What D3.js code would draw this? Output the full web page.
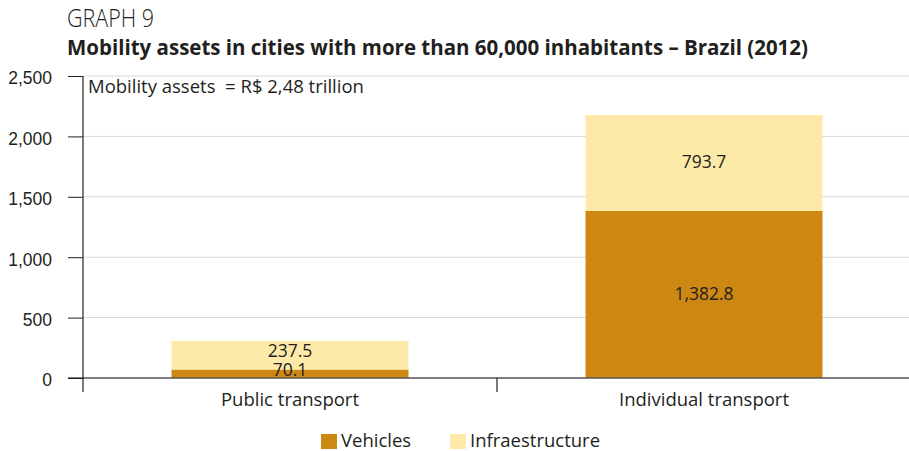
<!DOCTYPE html>
<html>
<head>
<meta charset="utf-8">
<script src="https://cdn.jsdelivr.net/npm/d3@7"></script>
<style>
  body { margin: 0; background: #fff; }
  svg { display: block; font-family: "Open Sans", "Noto Sans", sans-serif; }
</style>
</head>
<body>
<svg id="chart" width="909" height="451"></svg>
<script>
// Mobility assets (R$ billion), Brazil 2012
const categories = ["Public transport", "Individual transport"];
const seriesNames = ["Vehicles", "Infraestructure"];
const vehicles = [70.1, 1382.8];
const infrastructure = [237.5, 793.7];
const yTicks = [0, 500, 1000, 1500, 2000, 2500];
const colors = ["#cd8813", "#feeaa8"];

const svg = d3.select("#chart");
const margin = { left: 83, top: 76 };
const width = 909;

const rows = categories.map((c, i) => ({ category: c, Vehicles: vehicles[i], Infraestructure: infrastructure[i] }));
const stacked = d3.stack().keys(seriesNames)(rows);

const x = d3.scaleBand().domain(categories).range([margin.left, width + 2]).paddingInner(0).paddingOuter(0);
const y = d3.scaleLinear().domain([0, 2500]).range([378, 76]);

const fmt = d3.format(",.1f");
const ink = "#231f20";

// Title
svg.append("text").attr("x", 67).attr("y", 27)
  .attr("font-size", 25).attr("font-weight", 300).attr("fill", ink)
  .attr("transform", "translate(67,0) scale(0.86,1) translate(-67,0)")
  .text("GRAPH 9");
svg.append("text").attr("x", 67).attr("y", 55)
  .attr("font-size", 21).attr("font-weight", 700).attr("fill", ink)
  .attr("textLength", 741).attr("lengthAdjust", "spacingAndGlyphs")
  .text("Mobility assets in cities with more than 60,000 inhabitants – Brazil (2012)");

// Gridlines
svg.append("g").selectAll("line").data(yTicks.filter(d => d > 0)).join("line")
  .attr("x1", margin.left).attr("x2", width)
  .attr("y1", d => y(d)).attr("y2", d => y(d))
  .attr("stroke", "#d8d8d8").attr("stroke-width", 1);

// Bars
const barW = 237;
svg.append("g").selectAll("g").data(stacked).join("g")
  .attr("fill", (d, i) => colors[i])
  .selectAll("rect").data(d => d).join("rect")
  .attr("x", d => x(d.data.category) + x.bandwidth() / 2 - barW / 2)
  .attr("width", barW)
  .attr("y", d => y(d[1]))
  .attr("height", d => y(d[0]) - y(d[1]));

// Value labels
svg.append("g").selectAll("g").data(stacked).join("g")
  .selectAll("text").data(d => d.map(v => ({ v, key: d.key }))).join("text")
  .attr("x", d => x(d.v.data.category) + x.bandwidth() / 2)
  .attr("y", d => (y(d.v[0]) + y(d.v[1])) / 2 - (d.v.data.category === "Public transport" ? 4 : 1))
  .attr("dy", "0.36em")
  .attr("text-anchor", "middle").attr("font-size", 17.5).attr("fill", ink)
  .text(d => fmt(d.v.data[d.key]));

// Zero baseline
svg.append("line").attr("x1", 68).attr("x2", width)
  .attr("y1", y(0)).attr("y2", y(0))
  .attr("stroke", "#555").attr("stroke-width", 1.5);

// Y axis
const yAxis = d3.axisLeft(y).tickValues(yTicks).tickSize(15).tickPadding(16).tickFormat(d3.format(","));
const gy = svg.append("g").attr("transform", `translate(${margin.left},0)`).call(yAxis);
gy.select(".domain").remove();
gy.selectAll(".tick line").attr("stroke", ink);
gy.selectAll(".tick text").attr("font-size", 17.5).attr("fill", ink).attr("font-family", "inherit").attr("dy", "0.45em");
svg.append("line").attr("x1", margin.left).attr("x2", margin.left)
  .attr("y1", y(2500)).attr("y2", 392).attr("stroke", ink).attr("stroke-width", 1.2);

// Category separator tick
svg.append("line").attr("x1", x(categories[1])).attr("x2", x(categories[1]))
  .attr("y1", y(0)).attr("y2", 392).attr("stroke", ink).attr("stroke-width", 1.2);

// Category labels
svg.append("g").selectAll("text").data(categories).join("text")
  .attr("x", d => x(d) + x.bandwidth() / 2).attr("y", 406)
  .attr("text-anchor", "middle").attr("font-size", 18.5).attr("fill", ink)
  .text(d => d);

// Annotation
svg.append("text").attr("x", 88).attr("y", 93)
  .attr("font-size", 18.5).attr("fill", ink).attr("xml:space", "preserve")
  .text("Mobility assets  = R$ 2,48 trillion");

// Legend
const legendX = [321, 450];
const lg = svg.append("g").selectAll("g").data(seriesNames).join("g")
  .attr("transform", (d, i) => `translate(${legendX[i]},434)`);
lg.append("rect").attr("width", 16).attr("height", 15).attr("fill", (d, i) => colors[i]);
lg.append("text").attr("x", 20).attr("y", 13).attr("font-size", 18.5).attr("fill", ink).text(d => d);
</script>
</body>
</html>
